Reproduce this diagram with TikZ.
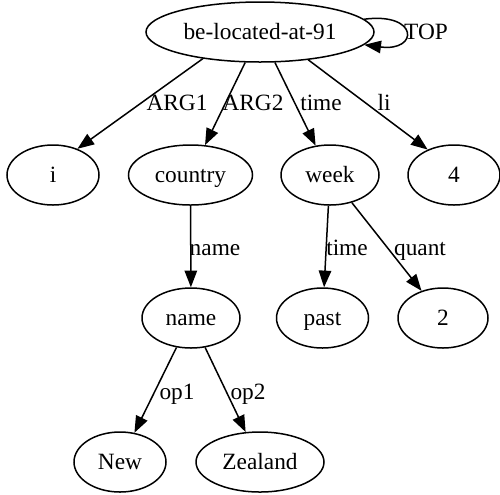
\documentclass[tikz,border=0pt]{standalone}
\usepackage{fontspec}
\setmainfont{Liberation Serif}
\usetikzlibrary{shapes.geometric,arrows.meta}
\begin{document}
\begin{tikzpicture}[x=0.6pt,y=-0.6pt,
  every node/.style={font=\fontsize{14pt}{16pt}\selectfont, text height=12pt, text depth=3pt, inner sep=0pt},
  nd/.style={draw, ellipse, line width=0.9pt, minimum height=36pt},
  arr/.style={line width=0.9pt, -{Triangle[length=10pt,width=7.5pt]}},
]
\useasboundingbox (0,0) rectangle (500,494);
% nodes
\node[nd, minimum width=136.8pt] (m) at (260,32) {be-located-at-91};
\node[nd, minimum width=55.2pt] (i) at (53,175) {i};
\node[nd, minimum width=74.4pt] (country) at (190.5,175) {country};
\node[nd, minimum width=58.8pt] (week) at (330,175) {week};
\node[nd, minimum width=55.2pt] (four) at (454,175) {4};
\node[nd, minimum width=58.8pt] (name) at (191,318) {name};
\node[nd, minimum width=55.2pt] (past) at (322.5,318) {past};
\node[nd, minimum width=54pt] (two) at (443,318) {2};
\node[nd, minimum width=55.2pt] (new) at (120,462) {New};
\node[nd, minimum width=76.8pt] (zealand) at (260,462) {Zealand};
% edges
\draw[arr] (m.205) -- (i.47);
\draw[arr] (m) -- (country);
\draw[arr] (m) -- (week);
\draw[arr] (m.330) -- (four.136);
\draw[arr] (country) -- (name);
\draw[arr] (week) -- (past);
\draw[arr] (week) -- (two);
\draw[arr] (name) -- (new);
\draw[arr] (name) -- (zealand);
\draw[arr] (m.7) .. controls (419,12) and (419,52) .. (m.-7);
% labels
\node (lt) at (426,32) {TOP};
\node (l1) at (177,103) {ARG1};
\node (l2) at (253,103) {ARG2};
\node (l3) at (321,103) {time};
\node (l4) at (384,103) {li};
\node (l5) at (215,248) {name};
\node (l6) at (347,248) {time};
\node (l7) at (420,248) {quant};
\node (l8) at (177,392) {op1};
\node (l9) at (248,392) {op2};
\end{tikzpicture}
\end{document}
